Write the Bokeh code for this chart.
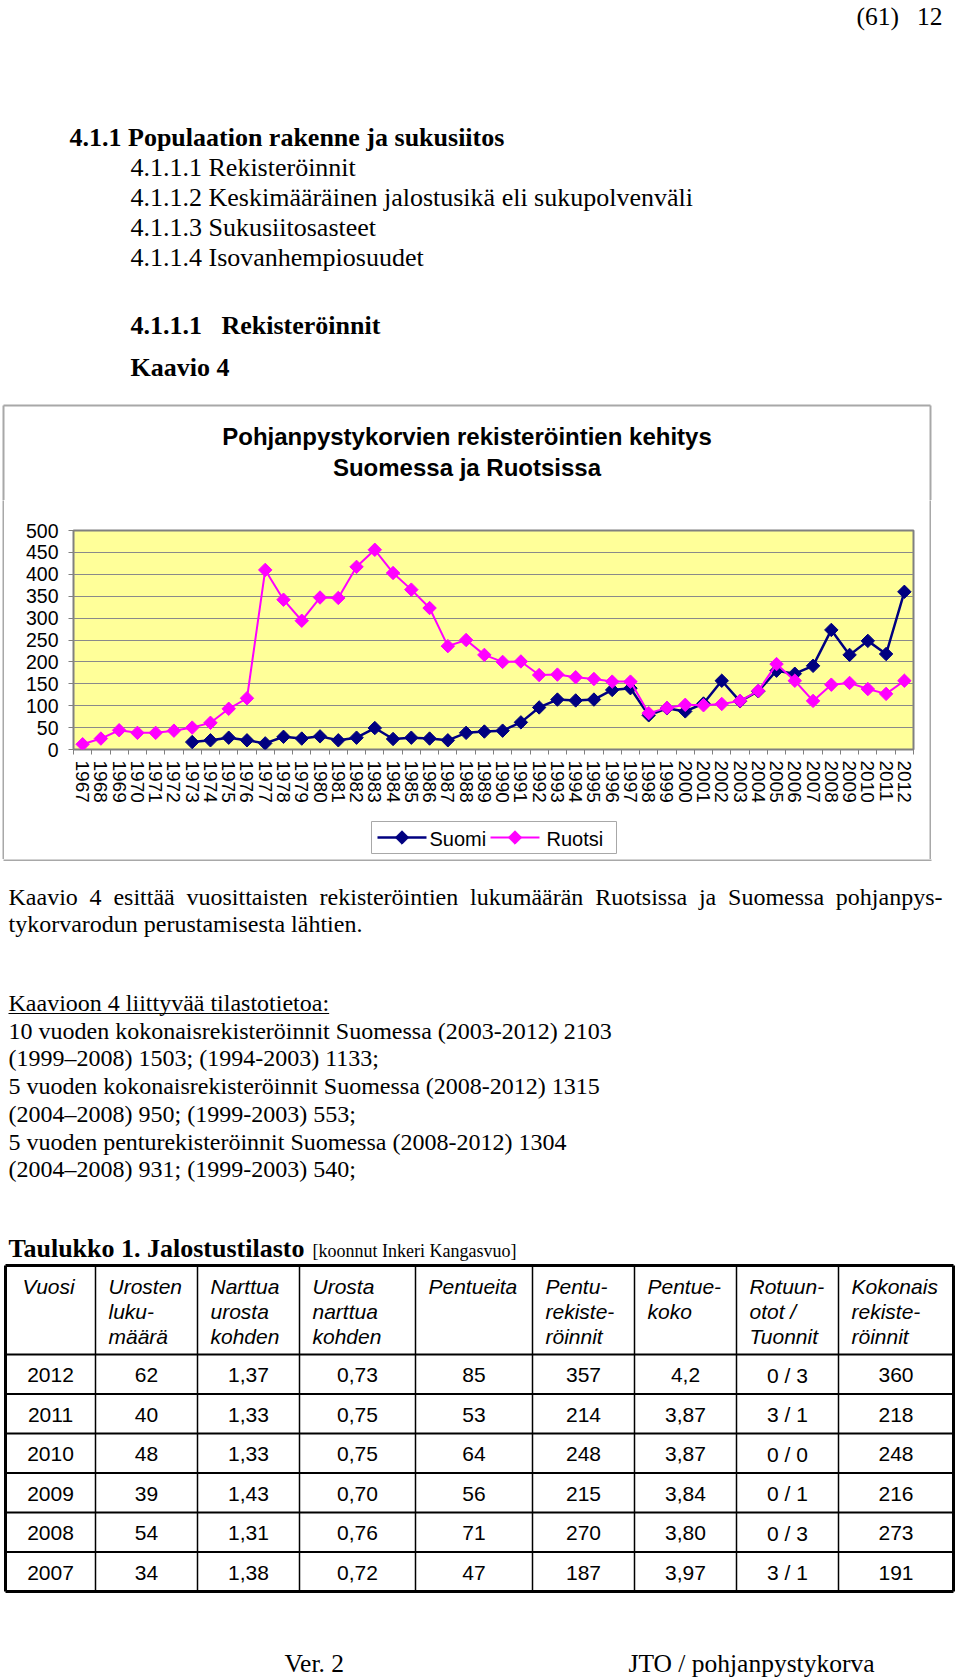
import math
from bokeh.plotting import figure
from bokeh.models import Range1d, FixedTicker, Spacer
from bokeh.layouts import column, row
from bokeh.embed import file_html
from bokeh.resources import INLINE
from bokeh.core.properties import value

# ---------------- data ----------------
years = list(range(1967, 2013))
suomi_years = list(range(1973, 2013))
suomi = [17, 21, 27, 21, 14, 29, 25, 30, 21, 27, 49, 24, 27, 25, 21, 38, 41, 43, 62, 96,
         114, 112, 114, 136, 140, 78, 94, 87, 105, 157, 110, 133, 180, 173, 191, 273, 216, 248, 218, 360]
ruotsi = [12, 25, 44, 38, 38, 43, 50, 61, 93, 117, 410, 342, 294, 347, 346, 417, 456, 403, 365, 323,
          236, 250, 216, 200, 201, 170, 171, 165, 161, 155, 155, 83, 95, 102, 101, 104, 111, 134, 195, 157,
          111, 148, 152, 138, 127, 157]
y_ticks = [0, 50, 100, 150, 200, 250, 300, 350, 400, 450, 500]
series_names = ["Suomi", "Ruotsi"]
series_colors = ["#000080", "#FF00FF"]
series_widths = [2.5, 2]
chart_title = ["Pohjanpystykorvien rekisteröintien kehitys", "Suomessa ja Ruotsissa"]

table_header = [["Vuosi"], ["Urosten", "luku-", "määrä"], ["Narttua", "urosta", "kohden"],
                ["Urosta", "narttua", "kohden"], ["Pentueita"], ["Pentu-", "rekiste-", "röinnit"],
                ["Pentue-", "koko"], ["Rotuun-", "otot /", "Tuonnit"], ["Kokonais", "rekiste-", "röinnit"]]
table_rows = [
    ["2012", "62", "1,37", "0,73", "85", "357", "4,2", "0 / 3", "360"],
    ["2011", "40", "1,33", "0,75", "53", "214", "3,87", "3 / 1", "218"],
    ["2010", "48", "1,33", "0,75", "64", "248", "3,87", "0 / 0", "248"],
    ["2009", "39", "1,43", "0,70", "56", "215", "3,84", "0 / 1", "216"],
    ["2008", "54", "1,31", "0,76", "71", "270", "3,80", "0 / 3", "273"],
    ["2007", "34", "1,38", "0,72", "47", "187", "3,97", "3 / 1", "191"],
]
stats_lines = [
    "Kaavioon 4 liittyvää tilastotietoa:",
    "10 vuoden kokonaisrekisteröinnit Suomessa (2003-2012) 2103",
    "(1999–2008) 1503; (1994-2003) 1133;",
    "5 vuoden kokonaisrekisteröinnit Suomessa (2008-2012) 1315",
    "(2004–2008) 950; (1999-2003) 553;",
    "5 vuoden penturekisteröinnit Suomessa (2008-2012) 1304",
    "(2004–2008) 931; (1999-2003) 540;",
]
para1 = "Kaavio 4 esittää vuosittaisten rekisteröintien lukumäärän Ruotsissa ja Suomessa pohjanpys-"
para2 = "tykorvarodun perustamisesta lähtien."

SERIF = "Liberation Serif"
SANS = "Liberation Sans"
BOX = "#a8a8a8"
K_BASE = 0.31   # baseline correction (fraction of font size)

TW = dict(a=444, b=500, c=444, d=500, e=444, f=333, g=500, h=500, i=278, j=278, k=500, l=278, m=778,
          n=500, o=500, p=500, q=500, r=333, s=389, t=278, u=500, v=500, w=722, x=500, y=500, z=444)
TW.update({"ä": 444, "ö": 500, "K": 722, "R": 667, "S": 556, "-": 333, " ": 250, ":": 278})


def tw(s, size):
    return sum(TW.get(c, 500) for c in s) / 1000.0 * size


def page_fig(x0, y0, w, h):
    f = figure(width=w, height=h, x_range=Range1d(x0, x0 + w), y_range=Range1d(y0 + h, y0),
               output_backend="svg", toolbar_location=None, x_axis_type=None, y_axis_type=None,
               min_border=0, title=None, frame_align=False)
    f.outline_line_color = None
    f.background_fill_color = "white"
    f.border_fill_color = "white"
    return f


def txt(f, x, y, s, size, font=SERIF, style="normal", align="left", color="black"):
    f.text(x=[x], y=[y - K_BASE * size], text=[s], text_font=value(font), text_font_size=f"{size}px",
           text_font_style=style, text_align=align, text_baseline="alphabetic", text_color=color)


def strip(h, w, color):
    f = figure(width=w, height=h, output_backend="svg", toolbar_location=None, x_axis_type=None,
               y_axis_type=None, min_border=0, title=None, frame_align=False)
    f.outline_line_color = None
    f.background_fill_color = color
    f.border_fill_color = color
    return f


# ---------------- header (page y 0..500) ----------------
head = page_fig(0, 0, 960, 500)
txt(head, 856, 24, "(61)", 25.5)
txt(head, 942, 24, "12", 25.5, align="right")
txt(head, 69, 145, "4.1.1 Populaation rakenne ja sukusiitos", 26, style="bold")
for i, s in enumerate(["4.1.1.1 Rekisteröinnit",
                       "4.1.1.2 Keskimääräinen jalostusikä eli sukupolvenväli",
                       "4.1.1.3 Sukusiitosasteet",
                       "4.1.1.4 Isovanhempiosuudet"]):
    txt(head, 130, 175 + 30 * i, s, 26)
txt(head, 130, 333, "4.1.1.1", 26, style="bold")
txt(head, 221, 333, "Rekisteröinnit", 26, style="bold")
txt(head, 130, 375, "Kaavio 4", 26, style="bold")
head.segment(x0=[3, 3, 930], y0=[405, 405, 405], x1=[930, 3, 930], y1=[405, 501, 501],
             line_color=BOX, line_width=2)
txt(head, 466.5, 443, chart_title[0], 24, font=SANS, style="bold", align="center")
txt(head, 466.5, 474, chart_title[1], 24, font=SANS, style="bold", align="center")

# ---------------- chart (page y 500..805, x 4..929) ----------------
CW = 925
CH = 305
chart = figure(width=CW, height=CH, x_range=Range1d(1966.5, 2012.5), y_range=Range1d(0, 500),
               output_backend="svg", toolbar_location=None, title=None, frame_align=False,
               min_border_left=69, min_border_right=16, min_border_top=30, min_border_bottom=55)
chart.background_fill_color = "#FFFF99"
chart.border_fill_color = "white"
chart.outline_line_color = "#808080"
chart.outline_line_width = 2

xa = chart.xaxis[0]
xa.ticker = FixedTicker(ticks=years, minor_ticks=[y - 0.5 for y in years] + [years[-1] + 0.5])
xa.major_tick_line_color = None
xa.major_tick_out = 0
xa.major_tick_in = 0
xa.minor_tick_out = 5
xa.minor_tick_in = 0
xa.minor_tick_line_color = "#808080"
xa.axis_line_color = None
xa.major_label_orientation = "vertical"
xa.major_label_standoff = 6
xa.major_label_text_font = SANS
xa.major_label_text_font_size = "19px"
xa.major_label_text_color = "black"

ya = chart.yaxis[0]
ya.ticker = FixedTicker(ticks=y_ticks)
ya.major_tick_out = 5
ya.major_tick_in = 0
ya.major_tick_line_color = "#808080"
ya.minor_tick_line_color = None
ya.axis_line_color = None
ya.major_label_standoff = 10
ya.major_label_text_font = SANS
ya.major_label_text_font_size = "19.5px"
ya.major_label_text_color = "black"

chart.xgrid.grid_line_color = None
chart.ygrid.ticker = FixedTicker(ticks=y_ticks)
chart.ygrid.grid_line_color = "#8a8a8a"
chart.ygrid.grid_line_width = 1.2

for xs, ys, col, lw in [(suomi_years, suomi, series_colors[0], series_widths[0]),
                        (years, ruotsi, series_colors[1], series_widths[1])]:
    chart.line(xs, ys, line_color=col, line_width=lw)
    chart.scatter(xs, ys, marker="square", angle=math.pi / 4, size=9.5, fill_color=col, line_color=col)

# ---------------- legend strip (page y 805..859, x 4..929) ----------------
LH = 54
legfig = page_fig(4, 805, CW, LH)
legfig.quad(left=[371], right=[616], top=[821], bottom=[853], fill_color="white",
            line_color=BOX, line_width=1)
LEG_Y = 837
for name, col, lw, gx, tx in zip(series_names, series_colors, series_widths, [377, 490], [429, 546]):
    legfig.segment(x0=[gx], y0=[LEG_Y], x1=[gx + 49], y1=[LEG_Y], line_color=col, line_width=lw)
    legfig.scatter(x=[gx + 24.5], y=[LEG_Y], marker="square", angle=math.pi / 4, size=9.5,
                   fill_color=col, line_color=col)
    txt(legfig, tx, LEG_Y + 7.2, name, 20, font=SANS)

chart_col = column(chart, legfig, spacing=0)
chart_row = row(Spacer(width=2, height=CH + LH), strip(CH + LH, 2, BOX), chart_col,
                strip(CH + LH, 2, BOX), Spacer(width=29, height=CH + LH), spacing=0)

# ---------------- footer (page y 859..1677) ----------------
F0 = 859
foot = page_fig(0, F0, 960, 1677 - F0)
foot.segment(x0=[3], y0=[F0 + 0.5], x1=[931], y1=[F0 + 0.5], line_color=BOX, line_width=2)

words = para1.split()
fs = 24
widths = [tw(w, fs) for w in words]
gap = (942 - 8 - sum(widths)) / (len(words) - 1)
x = 8
for k, (w, wd) in enumerate(zip(words, widths)):
    if k == len(words) - 1:
        txt(foot, 942, 904, w, fs, align="right")
    else:
        txt(foot, x, 904, w, fs)
    x += wd + gap
txt(foot, 8, 931, para2, fs)

for i, s in enumerate(stats_lines):
    txt(foot, 8, 1010 + 27.7 * i, s, fs)
foot.segment(x0=[8], y0=[1013], x1=[8 + tw(stats_lines[0], fs)], y1=[1013], line_color="black", line_width=1.2)

txt(foot, 8, 1256, "Taulukko 1. Jalostustilasto", 26, style="bold")
txt(foot, 312, 1256, "[koonnut Inkeri Kangasvuo]", 18)

col_edges = [5, 95, 197, 299, 415, 532, 634, 736, 838, 953]
row_edges = [1265, 1354, 1393.5, 1433, 1472.5, 1512, 1551.5, 1591]
foot.segment(x0=col_edges[1:-1], y0=[row_edges[0]] * 8, x1=col_edges[1:-1], y1=[row_edges[-1]] * 8,
             line_color="black", line_width=1.5)
foot.segment(x0=[col_edges[0]] * 6, y0=row_edges[1:-1], x1=[col_edges[-1]] * 6, y1=row_edges[1:-1],
             line_color="black", line_width=1.8)
foot.segment(x0=[col_edges[0], col_edges[0], col_edges[0], col_edges[-1]],
             y0=[row_edges[0], row_edges[-1], row_edges[0], row_edges[0]],
             x1=[col_edges[-1], col_edges[-1], col_edges[0], col_edges[-1]],
             y1=[row_edges[0], row_edges[-1], row_edges[-1], row_edges[-1]],
             line_color="black", line_width=3)

for c, lines in enumerate(table_header):
    xl = 22 if c == 0 else col_edges[c] + 13
    for j, s in enumerate(lines):
        txt(foot, xl, 1293 + 25 * j, s, 21, font=SANS, style="italic")
for r, rw in enumerate(table_rows):
    yb = (row_edges[r + 1] + row_edges[r + 2]) / 2 + 7.5
    for c, s in enumerate(rw):
        xc = (col_edges[c] + col_edges[c + 1]) / 2
        txt(foot, xc, yb, s, 21, font=SANS, align="center")

txt(foot, 284, 1671, "Ver. 2", 25.5)
txt(foot, 628, 1671, "JTO / pohjanpystykorva", 25.5)

layout = column(head, chart_row, foot, spacing=0)
open("out.html", "w").write(file_html(layout, INLINE))
